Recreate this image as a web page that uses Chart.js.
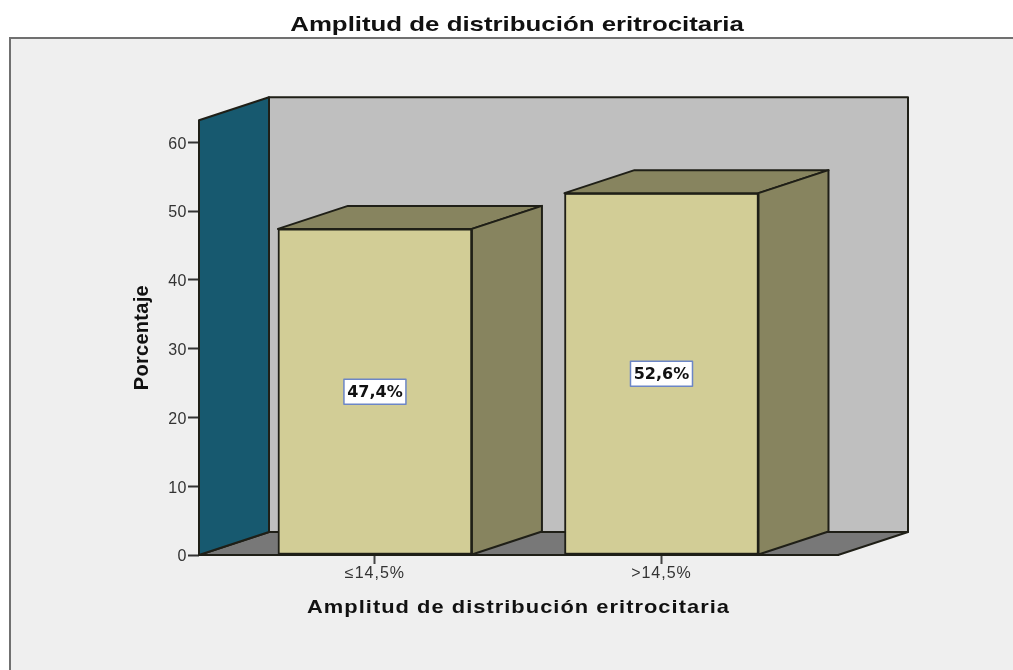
<!DOCTYPE html>
<html>
<head>
<meta charset="utf-8">
<title>Amplitud de distribución eritrocitaria</title>
<script src="https://cdn.jsdelivr.net/npm/chart.js@4"></script>
<style>
  html, body { margin: 0; padding: 0; background: #fff; }
  canvas { display: block; }
</style>
</head>
<body>
<canvas id="rdwChart" width="1013" height="670"></canvas>
<script>
const categories = ['≤14,5%', '>14,5%'];
const percentages = [47.4, 52.6];
const yTicks = [0, 10, 20, 30, 40, 50, 60];

const chartTitle = 'Amplitud de distribución eritrocitaria';
const xTitle = 'Amplitud de distribución eritrocitaria';
const yTitle = 'Porcentaje';

const DEPTH_X = 70;
const DEPTH_Y = 23;
const EDGE = '#1f1f17';

function poly(ctx, pts, fill, stroke) {
  ctx.beginPath();
  pts.forEach((p, i) => i ? ctx.lineTo(p[0], p[1]) : ctx.moveTo(p[0], p[1]));
  ctx.closePath();
  ctx.fillStyle = fill;
  ctx.fill();
  ctx.lineWidth = 2;
  ctx.lineJoin = 'round';
  ctx.strokeStyle = stroke;
  ctx.stroke();
}

// run a box's draw method with tracking, a horizontal stretch or a vertical nudge applied
function styled(box, method, spacing, stretch, dy) {
  const original = box[method];
  box[method] = function (...args) {
    const c = this.ctx;
    c.save();
    c.letterSpacing = spacing + 'px';
    if (dy) c.translate(0, dy);
    if (stretch) {
      const mid = (this.left + this.right) / 2;
      c.translate(stretch.center, 0);
      c.scale(stretch.factor, 1);
      c.translate(-mid, 0);
    }
    original.apply(this, args);
    c.restore();
  };
}

const textStyle = {
  id: 'textStyle',
  afterInit(chart) {
    styled(chart.titleBlock, 'draw', 0, { center: 517, factor: 1.23 });
  },
  afterLayout(chart) {
    if (chart.$styled) return;
    chart.$styled = true;
    styled(chart.scales.x, 'drawTitle', 0.9, { center: 518.5, factor: 1.15 });
    styled(chart.scales.y, 'drawTitle', 0.3);
    styled(chart.scales.x, 'drawLabels', 1);
    styled(chart.scales.y, 'drawLabels', 0.5, null, 2);
  }
};

// grey panel behind everything, only its top and left edges fall inside the canvas
const panel = {
  id: 'panel',
  beforeDraw(chart) {
    const ctx = chart.ctx;
    ctx.save();
    ctx.fillStyle = '#efefef';
    ctx.fillRect(10, 38, chart.width, chart.height);
    ctx.strokeStyle = '#707070';
    ctx.lineWidth = 2;
    ctx.beginPath();
    ctx.moveTo(10, chart.height);
    ctx.lineTo(10, 38);
    ctx.lineTo(chart.width, 38);
    ctx.stroke();
    ctx.restore();
  }
};

// back wall, floor and left wall of the box
const walls = {
  id: 'walls',
  beforeDatasetsDraw(chart) {
    const ctx = chart.ctx;
    const a = chart.chartArea;
    const l = a.left, r = a.right, t = a.top, b = a.bottom;
    ctx.save();
    poly(ctx, [[l + DEPTH_X, t - DEPTH_Y], [r + DEPTH_X, t - DEPTH_Y], [r + DEPTH_X, b - DEPTH_Y], [l + DEPTH_X, b - DEPTH_Y]], '#bfbfbf', EDGE);
    poly(ctx, [[l, b], [l + DEPTH_X, b - DEPTH_Y], [r + DEPTH_X, b - DEPTH_Y], [r, b]], '#787878', EDGE);
    poly(ctx, [[l, t], [l + DEPTH_X, t - DEPTH_Y], [l + DEPTH_X, b - DEPTH_Y], [l, b]], '#17596f', EDGE);
    ctx.restore();
  }
};

// top and side faces of each bar, plus the value boxes
const barFaces = {
  id: 'barFaces',
  afterDatasetsDraw(chart) {
    const ctx = chart.ctx;
    const meta = chart.getDatasetMeta(0);
    ctx.save();
    meta.data.forEach((bar, i) => {
      const p = bar.getProps(['x', 'y', 'base', 'width'], true);
      const l = p.x - p.width / 2, r = p.x + p.width / 2;
      poly(ctx, [[l, p.y], [l + DEPTH_X, p.y - DEPTH_Y], [r + DEPTH_X, p.y - DEPTH_Y], [r, p.y]], '#87845f', EDGE);
      poly(ctx, [[r, p.y], [r + DEPTH_X, p.y - DEPTH_Y], [r + DEPTH_X, p.base - DEPTH_Y], [r, p.base]], '#87845f', EDGE);

      const cy = (p.y + p.base) / 2;
      ctx.fillStyle = '#fff';
      ctx.strokeStyle = '#6c86c6';
      ctx.lineWidth = 1.5;
      ctx.fillRect(p.x - 31, cy - 12.5, 62, 25);
      ctx.strokeRect(p.x - 31, cy - 12.5, 62, 25);
      ctx.fillStyle = '#111';
      ctx.font = 'bold 16px "DejaVu Sans"';
      ctx.textAlign = 'center';
      ctx.textBaseline = 'middle';
      ctx.fillText(percentages[i].toFixed(1).replace('.', ',') + '%', p.x, cy + 1);
    });
    ctx.restore();
  }
};

new Chart(document.getElementById('rdwChart').getContext('2d'), {
  type: 'bar',
  data: {
    datasets: [{
      data: percentages.map((v, i) => ({ x: i, y: v })),
      backgroundColor: '#d2cd96',
      borderColor: EDGE,
      borderWidth: 2,
      borderSkipped: false,
      barThickness: 194
    }]
  },
  options: {
    responsive: false,
    animation: false,
    layout: { padding: { left: 130, right: 175, top: 0, bottom: 50 } },
    plugins: {
      legend: { display: false },
      tooltip: { enabled: false },
      title: {
        display: true,
        text: chartTitle,
        color: '#111',
        font: { family: '"Liberation Sans"', size: 21, weight: 'bold' },
        padding: { top: 13, bottom: 82 }
      }
    },
    scales: {
      x: {
        type: 'linear',
        offset: false,
        min: -0.614,
        max: 1.616,
        afterBuildTicks(scale) { scale.ticks = categories.map((c, i) => ({ value: i })); },
        afterFit(scale) { scale.height = 65; },
        ticks: {
          callback: v => categories[v],
          color: '#333',
          font: { family: '"Liberation Sans"', size: 16 },
          maxRotation: 0,
          padding: 0
        },
        grid: { offset: false, drawOnChartArea: false, tickLength: 9, tickColor: '#444', tickWidth: 2 },
        border: { color: '#444', width: 2 },
        title: {
          display: true,
          text: xTitle,
          color: '#111',
          font: { family: '"Liberation Sans"', size: 19, weight: 'bold' },
          padding: { top: 12, bottom: 1 }
        }
      },
      y: {
        min: 0,
        max: 63.2,
        afterBuildTicks(scale) { scale.ticks = yTicks.map(v => ({ value: v })); },
        afterFit(scale) { scale.width = 69; },
        ticks: {
          color: '#333',
          font: { family: '"Liberation Sans"', size: 16 },
          padding: 1
        },
        grid: { drawOnChartArea: false, tickLength: 11, tickColor: '#333', tickWidth: 2 },
        border: { display: false },
        title: {
          display: true,
          text: yTitle,
          color: '#111',
          font: { family: '"Liberation Sans"', size: 20, weight: 'bold' },
          padding: { top: 0, bottom: 12 }
        }
      }
    }
  },
  plugins: [textStyle, panel, walls, barFaces]
});
</script>
</body>
</html>
